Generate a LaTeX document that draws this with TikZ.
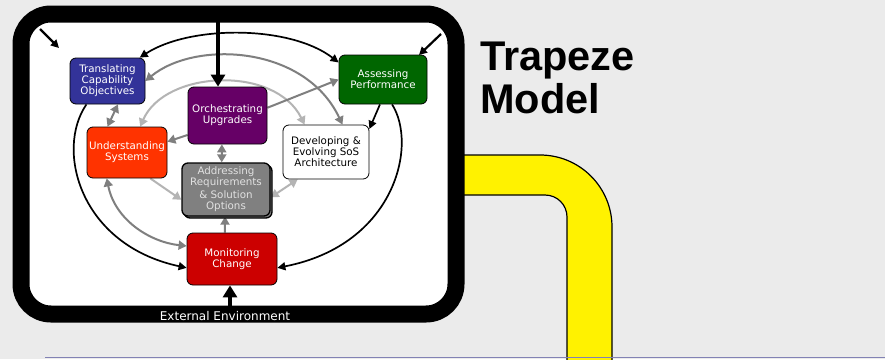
\documentclass[tikz,border=0pt]{standalone}
\usepackage{fontspec}
\setmainfont{DejaVu Sans}
\newfontfamily\titlefont{Liberation Sans}
\usetikzlibrary{arrows.meta,shadows}
\pgfdeclarelayer{back}
\pgfdeclarelayer{links}
\pgfsetlayers{back,links,main}
\definecolor{bggray}{RGB}{235,235,235}
\definecolor{rulecolor}{RGB}{130,130,180}
\definecolor{transblue}{RGB}{51,51,153}
\definecolor{orchpurple}{RGB}{102,0,102}
\definecolor{assessgreen}{RGB}{0,102,0}
\definecolor{underred}{RGB}{255,51,0}
\definecolor{addrgray}{RGB}{128,128,128}
\definecolor{addrtext}{RGB}{225,225,225}
\definecolor{monitred}{RGB}{204,0,0}
\definecolor{arrowgray}{RGB}{127,127,127}
\definecolor{arrowlight}{RGB}{180,180,180}
\begin{document}
\begin{tikzpicture}[x=1pt,y=-1pt,
    stage/.style={rectangle, rounded corners=6pt, draw=black, line width=0.8pt, inner sep=1pt,
      align=center, text=white, font=\fontsize{10.3}{11}\selectfont},
    bigarrow/.style={line width=4pt, >={Triangle[length=12pt,width=14pt]}},
    blackarrow/.style={line width=1.7pt, >={Triangle[length=8pt,width=8pt]}},
    grayarrow/.style={draw=arrowgray, line width=2pt, >={Triangle[length=8pt,width=9pt]}},
    lightarrow/.style={draw=arrowlight, line width=2pt, >={Triangle[length=8pt,width=9pt]}}]
   \useasboundingbox (0,0) rectangle (885,359);
   \begin{pgfonlayer}{back}
   \fill[bggray] (0,0) rectangle (885,359);
   \filldraw[fill=yellow, draw=black, line width=1.2pt] (450,155) -- (540,155)
     .. controls (579.8,155) and (612,187.2) .. (612,227) -- (612,370) -- (567,370) -- (567,217)
     .. controls (567,204.8) and (557.2,195) .. (545,195) -- (450,195) -- cycle;
   \draw[rulecolor, line width=1pt] (45,357.5) -- (885,357.5);
   \filldraw[fill=white, draw=black, line width=17pt, rounded corners=30pt] (21,14) rectangle (456,314);
   \end{pgfonlayer}
   % stages
   \node[stage, fill=transblue, minimum width=75pt, minimum height=46pt] (trans) at (107.5,81) {Translating\\Capability\\Objectives};
   \node[stage, fill=orchpurple, minimum width=79pt, minimum height=57pt] (orch) at (227.5,115.5) {Orchestrating\\Upgrades};
   \node[stage, fill=assessgreen, minimum width=88pt, minimum height=49pt] (assess) at (383,79.5) {Assessing\\Performance};
   \node[stage, fill=underred, minimum width=80pt, minimum height=51pt] (under) at (127,152.5) {Understanding\\Systems};
   \node[stage, fill=white, text=black, minimum width=86pt, minimum height=54pt] (devel) at (326,152) {Developing \&\\Evolving SoS\\Architecture};
   \node[stage, fill=addrgray, text=addrtext, line width=1.3pt, minimum width=88pt, minimum height=53pt,
     copy shadow={shadow xshift=2pt, shadow yshift=-2pt, fill=addrgray, draw=black}] (addr) at (226,189.5)
     {Addressing\\Requirements\\[2pt]\& Solution\\Options};
   \node[stage, fill=monitred, minimum width=90pt, minimum height=52pt] (monit) at (232,259) {Monitoring\\Change};
   \node[anchor=base west, inner sep=0pt, font=\titlefont\bfseries\fontsize{41.5}{44}\selectfont] (title) at (480,70) {Trapeze};
   \node[anchor=base west, inner sep=0pt, font=\titlefont\bfseries\fontsize{41.5}{44}\selectfont] (title2) at (480,113) {Model};
   \node[anchor=base, inner sep=0pt, text=white, font=\fontsize{12}{12}\selectfont] (env) at (225,320) {External Environment};
   % links
   \begin{pgfonlayer}{links}
   \coordinate (topin) at (218,14);
   \coordinate (botin) at (230,314);
   \coordinate (tlstart) at (40,29);
   \coordinate (tlend) at (59,48);
   \coordinate (trstart) at (441,34);
   \coordinate (trend) at (419,55);
   \draw[lightarrow, <->] (under.63) .. controls (165,70) and (275,65) .. (devel.128);
   \draw[lightarrow, ->] (under.-48) -- (addr.193);
   \draw[lightarrow, <->] (addr.-10) -- (devel.-136);
   \draw[grayarrow, <->] (trans.east) .. controls (195,40) and (305,45) .. (devel.59);
   \draw[grayarrow, ->] (orch.11) -- (assess.west);
   \draw[grayarrow, ->] (orch.206) -- (under.15);
   \draw[grayarrow, <->] (trans.-66) -- (under.127);
   \draw[grayarrow, <->] (orch.-101) -- (addr.99);
   \draw[grayarrow, ->] (monit.105) -- (addr.-92);
   \draw[grayarrow, <->] (under.-128) .. controls (115,220) and (150,242) .. (monit.164);
   \draw[blackarrow, <->] (trans.36) .. controls (190,25) and (290,25) .. (assess.159);
   \draw[blackarrow, ->] (assess.-97) -- (devel.28);
   \draw[blackarrow, ->] (trans.-132) .. controls (55,150) and (80,245) .. (monit.191);
   \draw[blackarrow, ->] (assess.-70) .. controls (418,145) and (395,245) .. (monit.-11);
   \draw[blackarrow, line width=2.2pt, ->] (tlstart) -- (tlend);
   \draw[blackarrow, line width=2.2pt, ->] (trstart) -- (trend);
   \draw[bigarrow, ->] (topin) -- (topin |- orch.north);
   \draw[bigarrow, ->] (botin) -- (botin |- monit.south);
   \end{pgfonlayer}
\end{tikzpicture}
\end{document}
